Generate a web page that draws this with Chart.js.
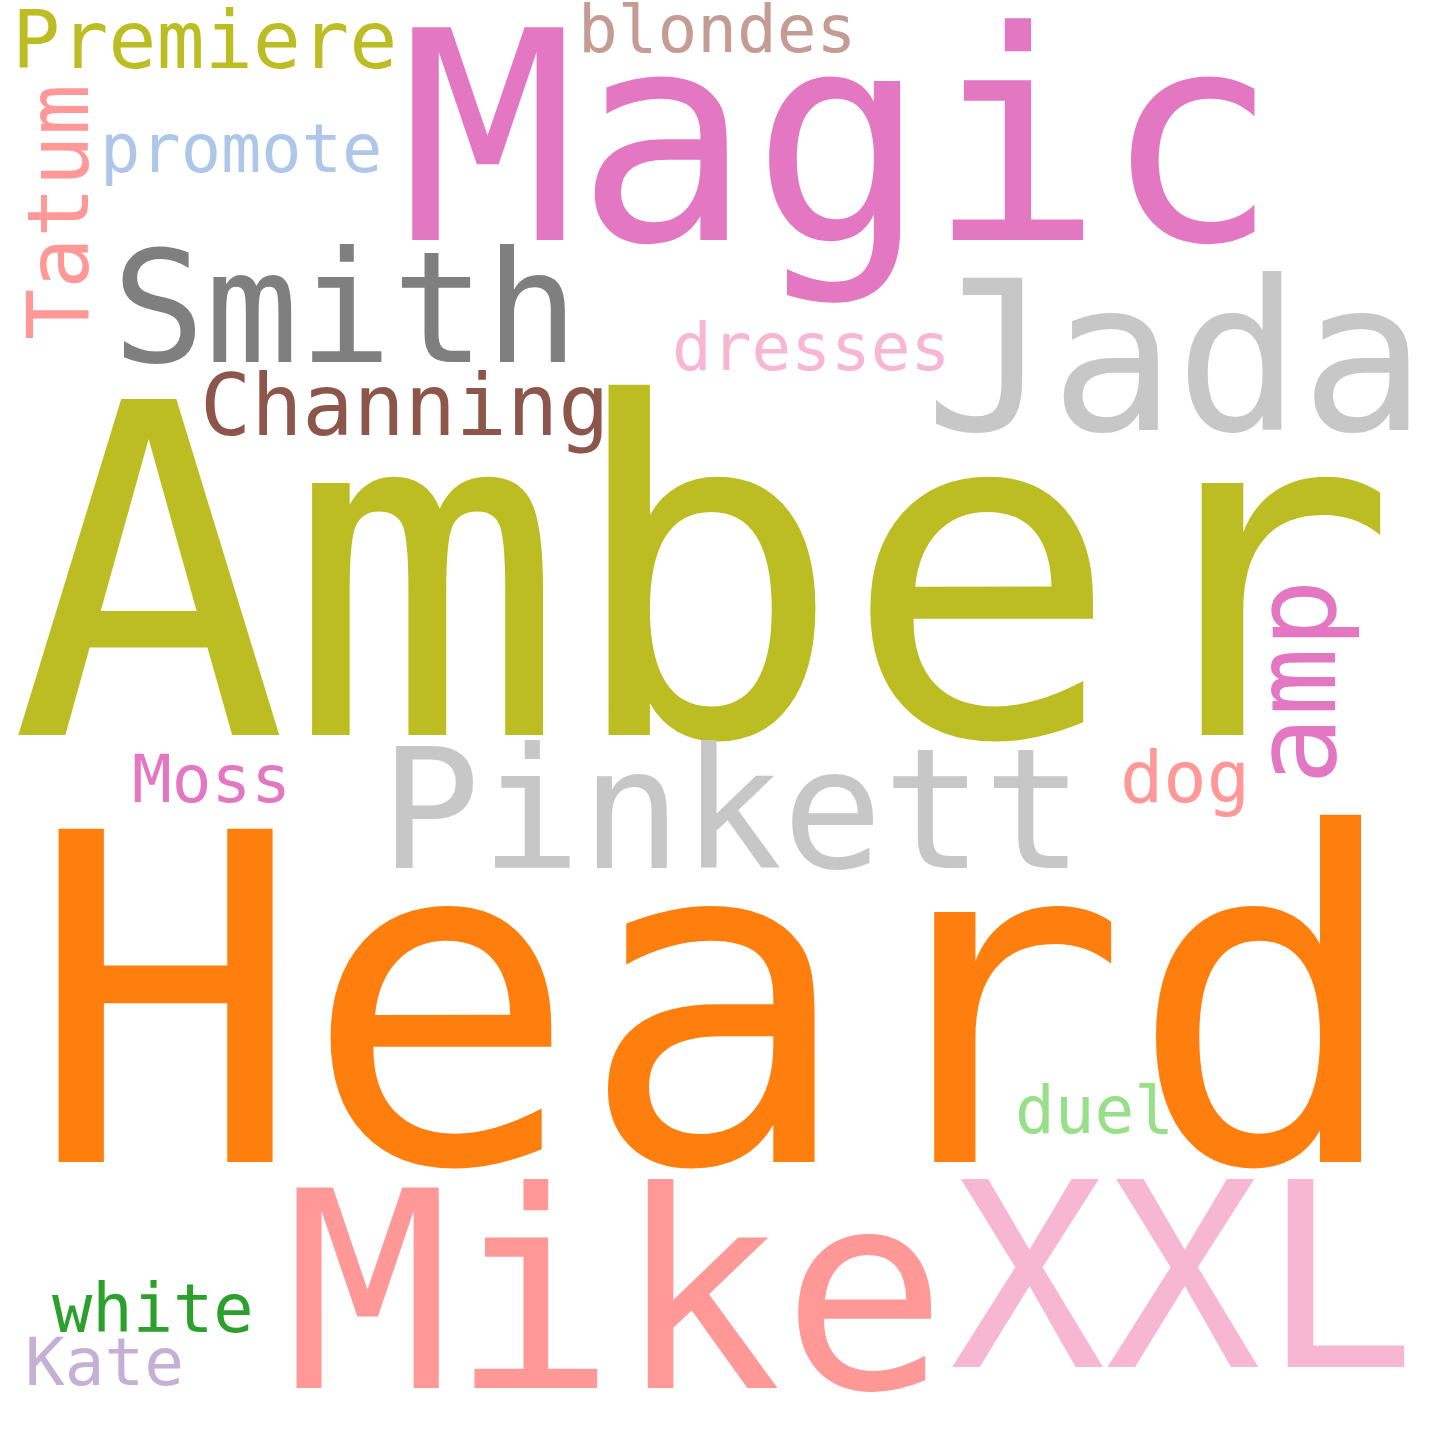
<!DOCTYPE html>
<html>
<head>
<meta charset="utf-8">
<script src="https://cdn.jsdelivr.net/npm/chart.js@4"></script>
<style>
  html, body { margin: 0; padding: 0; background: #fff; }
  #wrap { width: 1440px; height: 1440px; }
</style>
</head>
<body>
<div id="wrap"><canvas id="cloud"></canvas></div>
<script>
// word cloud data: word, anchor (left/baseline), size, rotation, colour
const words   = ["Premiere","blondes","Magic","Tatum","promote","Smith","Jada","dresses","Channing","Amber","amp","Moss","Pinkett","dog","Heard","duel","Mike","XXL","white","Kate"];
const xs      = [12, 578, 400, 88, 100, 112, 925, 672, 200, 10, 1335, 132, 380, 1120, 28, 1015, 285, 950, 52, 25];
const ys      = [68, 52, 240, 340, 172, 362, 430, 370, 435, 735, 785, 802, 868, 802, 1162, 1133, 1388, 1367, 1332, 1385];
const sizes   = [80, 66, 292, 85, 67, 155, 208, 66, 85, 461, 114, 66, 167, 72, 457, 66, 275, 258, 67, 66];
const rotated = [0, 0, 0, 1, 0, 0, 0, 0, 0, 0, 1, 0, 0, 0, 0, 0, 0, 0, 0, 0];
const colors  = ["#bcbd22","#c49c94","#e377c2","#ff9896","#aec7e8","#7f7f7f","#c7c7c7","#f7b6d2","#8c564b","#bcbd22","#e377c2","#e377c2","#c7c7c7","#ff9896","#ff7f0e","#98df8a","#ff9896","#f7b6d2","#2ca02c","#c5b0d5"];

const wordPlugin = {
  id: "words",
  afterDatasetsDraw(chart) {
    const ctx = chart.ctx;
    const sx = chart.scales.x, sy = chart.scales.y;
    chart.data.datasets[0].data.forEach((p, i) => {
      ctx.save();
      ctx.translate(sx.getPixelForValue(p.x), sy.getPixelForValue(p.y));
      if (rotated[i]) ctx.rotate(-Math.PI / 2);
      ctx.font = sizes[i] + "px 'DejaVu Sans Mono'";
      ctx.fillStyle = colors[i];
      ctx.textAlign = "left";
      ctx.textBaseline = "alphabetic";
      ctx.fillText(words[i], 0, 0);
      ctx.restore();
    });
  },
};

new Chart(document.getElementById("cloud"), {
  type: "scatter",
  data: {
    datasets: [{ data: words.map((w, i) => ({ x: xs[i], y: ys[i] })), pointRadius: 0 }],
  },
  options: {
    responsive: true,
    maintainAspectRatio: false,
    animation: false,
    layout: { padding: 0 },
    plugins: { legend: { display: false }, tooltip: { enabled: false } },
    scales: {
      x: { type: "linear", min: 0, max: 1440, display: false },
      y: { type: "linear", min: 0, max: 1440, reverse: true, display: false },
    },
  },
  plugins: [wordPlugin],
});
</script>
</body>
</html>
